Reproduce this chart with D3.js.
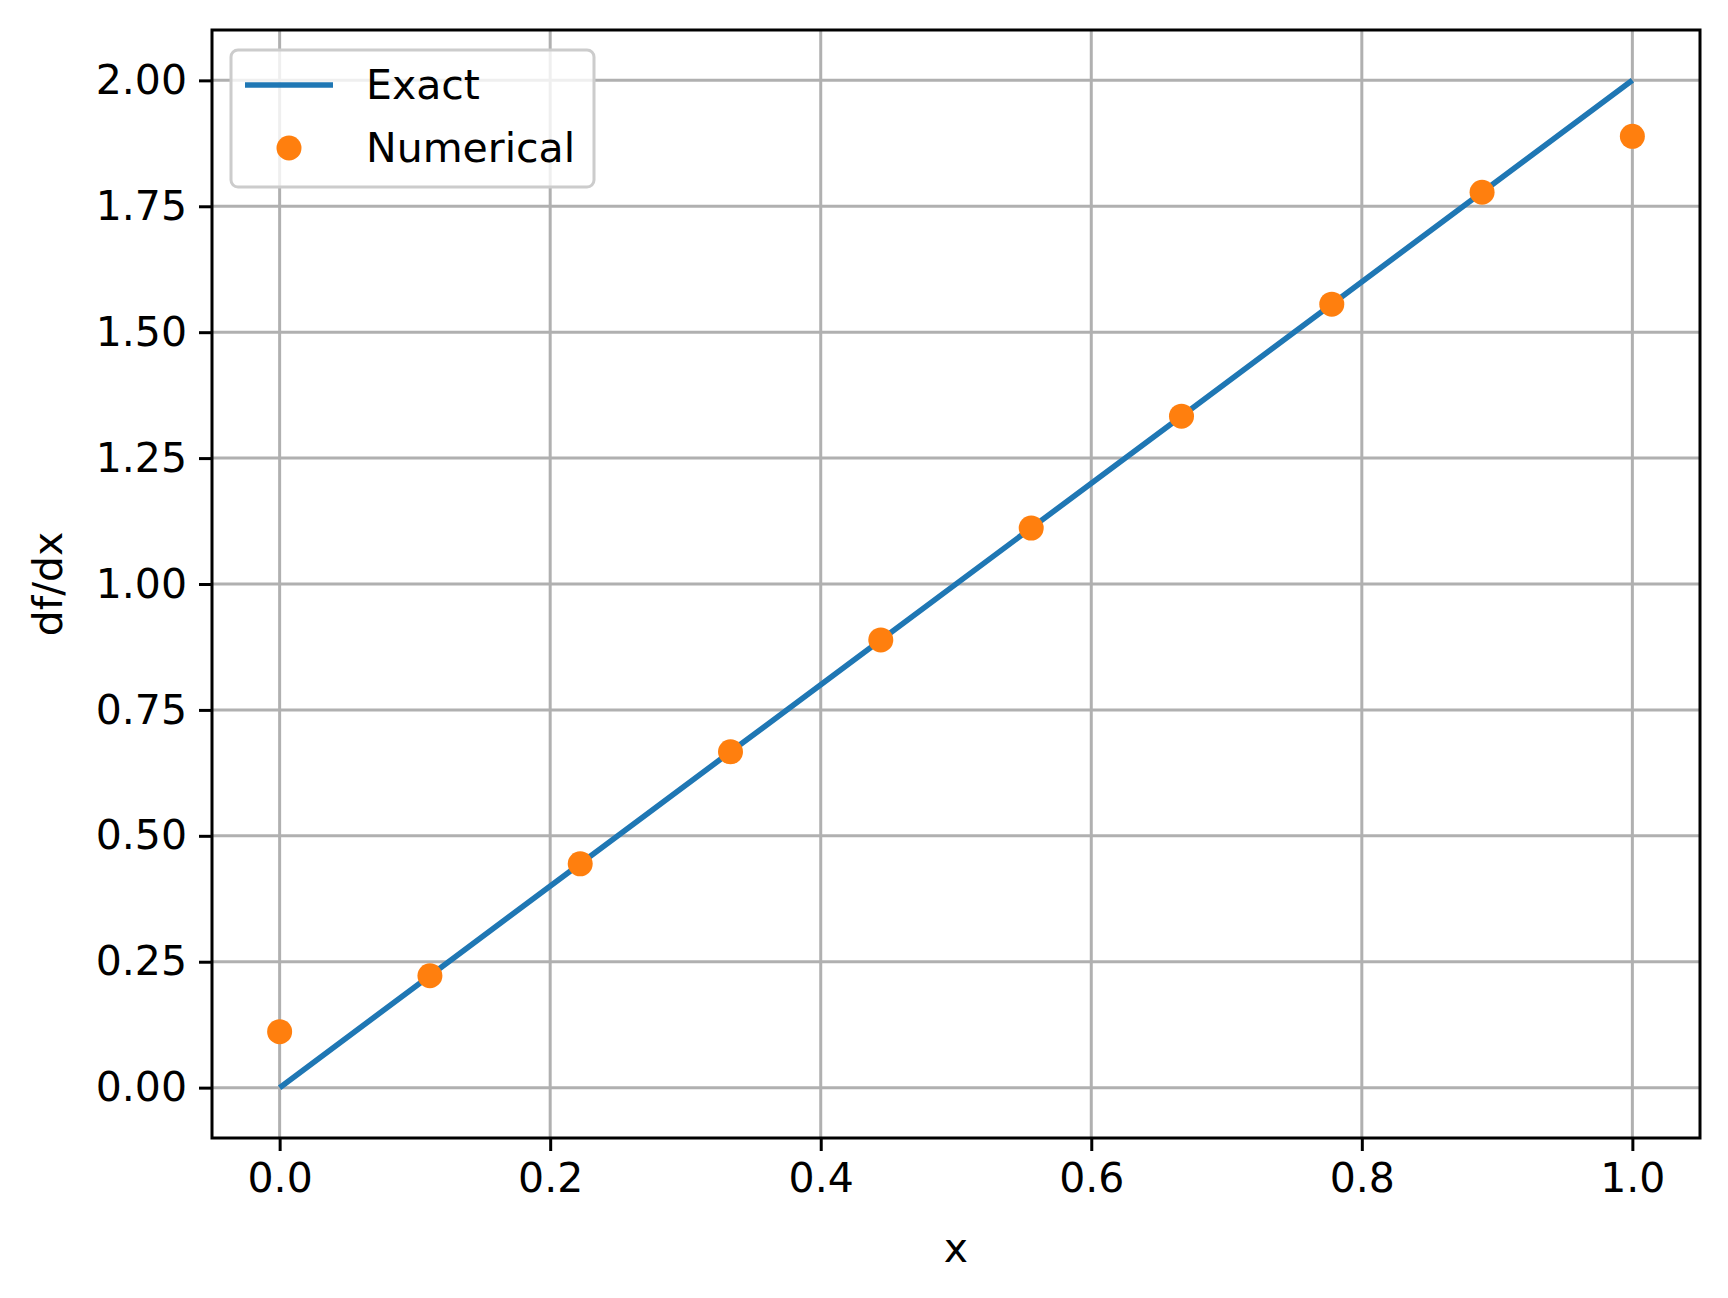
<!DOCTYPE html><html><head><meta charset="utf-8"><script src="https://cdn.jsdelivr.net/npm/d3@7"></script>
<style>body{margin:0;background:#fff}text{font-family:"DejaVu Sans";}</style></head><body><svg id="c" width="1728" height="1298"></svg><script>
const xs=[0,0.1111,0.2222,0.3333,0.4444,0.5556,0.6667,0.7778,0.8889,1];
const exact=[0,0.2222,0.4444,0.6667,0.8889,1.1111,1.3333,1.5556,1.7778,2];
const numerical=[0.1111,0.2222,0.4444,0.6667,0.8889,1.1111,1.3333,1.5556,1.7778,1.8889];
const xTicks=[0,0.2,0.4,0.6,0.8,1.0];
const yTicks=[0,0.25,0.5,0.75,1,1.25,1.5,1.75,2];
const svg=d3.select("#c");
const L=212,R=1700,T=30,B=1138,fs=41;
const x=d3.scaleLinear([-0.05,1.05],[L,R]),y=d3.scaleLinear([-0.1,2.1],[B,T]);
const g=svg.append("g");
g.selectAll(".gx").data(xTicks).join("line").attr("x1",d=>x(d)).attr("x2",d=>x(d)).attr("y1",T).attr("y2",B).attr("stroke","#b0b0b0").attr("stroke-width",3);
g.selectAll(".gy").data(yTicks).join("line").attr("y1",d=>y(d)).attr("y2",d=>y(d)).attr("x1",L).attr("x2",R).attr("stroke","#b0b0b0").attr("stroke-width",3);
const ax=svg.append("g").attr("transform",`translate(0,${B})`).call(d3.axisBottom(x).tickValues(xTicks).tickFormat(d3.format(".1f")).tickSize(13).tickPadding(12));
const ay=svg.append("g").attr("transform",`translate(${L},0)`).call(d3.axisLeft(y).tickValues(yTicks).tickFormat(d3.format(".2f")).tickSize(13).tickPadding(12));
[ax,ay].forEach(a=>{a.select(".domain").remove();a.selectAll("line").attr("stroke-width",3);a.selectAll("text").attr("font-size",fs).attr("font-family","DejaVu Sans").attr("fill","#000");});
svg.append("path").datum(xs.map((d,i)=>[d,exact[i]])).attr("d",d3.line().x(d=>x(d[0])).y(d=>y(d[1]))).attr("fill","none").attr("stroke","#1f77b4").attr("stroke-width",5.6);
svg.selectAll(".pt").data(xs).join("circle").attr("cx",d=>x(d)).attr("cy",(d,i)=>y(numerical[i])).attr("r",12.5).attr("fill","#ff7f0e");
svg.append("rect").attr("x",L).attr("y",T).attr("width",R-L).attr("height",B-T).attr("fill","none").attr("stroke","#000").attr("stroke-width",3);
svg.append("text").attr("x",(L+R)/2).attr("y",1262).attr("text-anchor","middle").attr("font-size",fs).text("x");
svg.append("text").attr("transform",`translate(62,${(T+B)/2}) rotate(-90)`).attr("text-anchor","middle").attr("font-size",fs).text("df/dx");
const lg=svg.append("g");
lg.append("rect").attr("x",231).attr("y",50).attr("width",363).attr("height",137).attr("rx",7).attr("fill","#fff").attr("fill-opacity",0.8).attr("stroke","#ccc").attr("stroke-width",3);
lg.append("line").attr("x1",245).attr("x2",333).attr("y1",85).attr("y2",85).attr("stroke","#1f77b4").attr("stroke-width",5.6);
lg.append("circle").attr("cx",289).attr("cy",148).attr("r",12.5).attr("fill","#ff7f0e");
lg.append("text").attr("x",366).attr("y",99).attr("font-size",fs).text("Exact");
lg.append("text").attr("x",366).attr("y",162).attr("font-size",fs).text("Numerical");
</script></body></html>
